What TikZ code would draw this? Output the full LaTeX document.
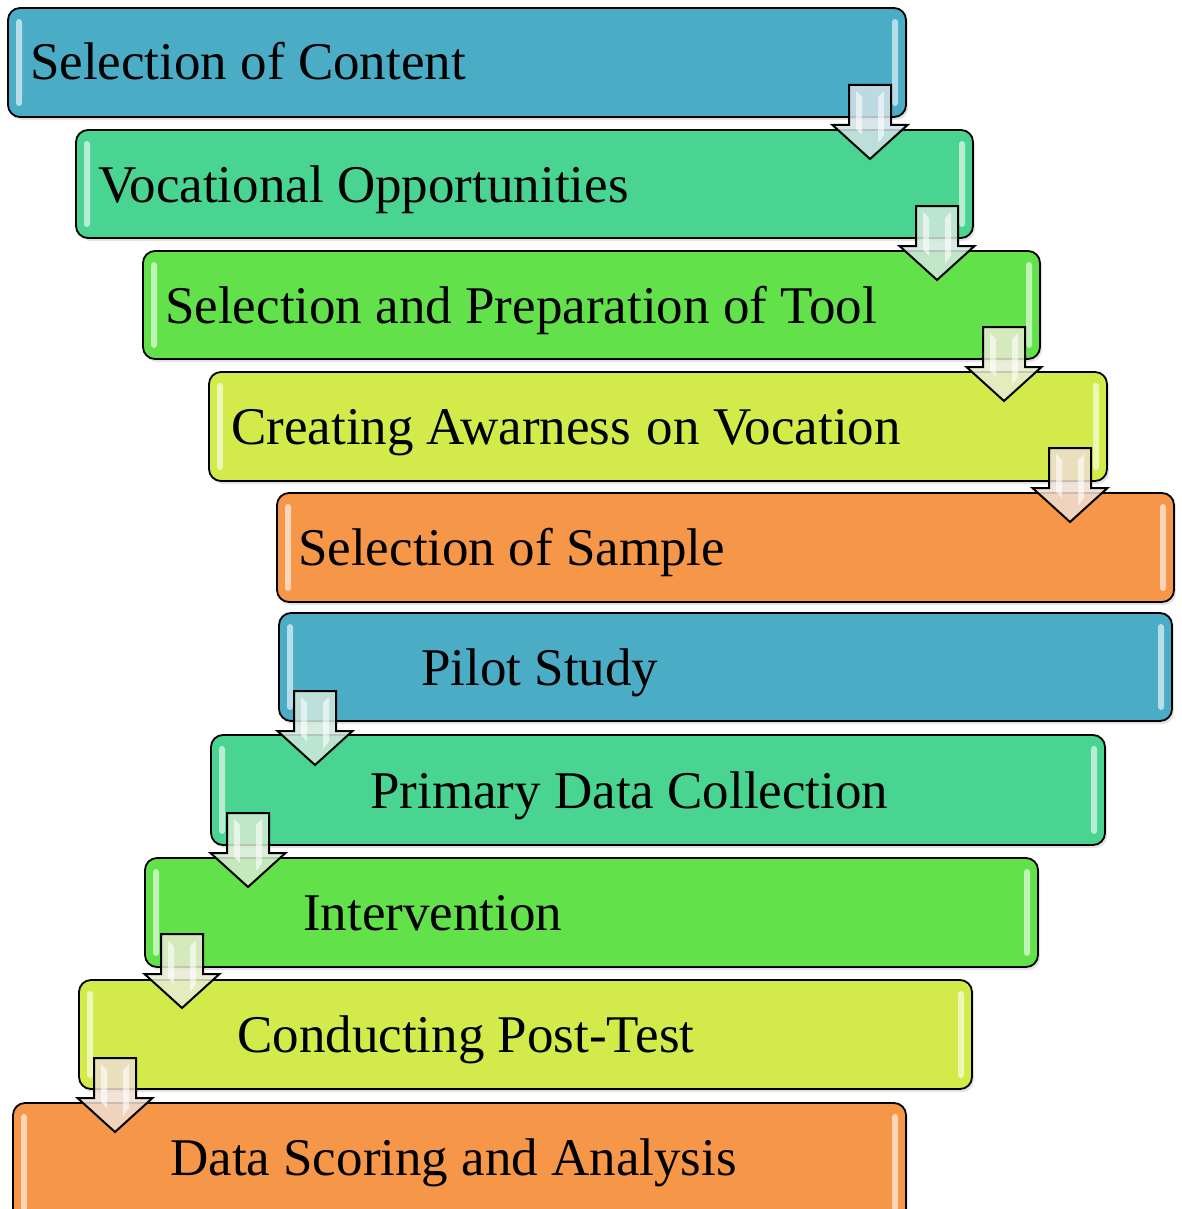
\documentclass[tikz,border=0pt]{standalone}
\usepackage{fontspec}
\setmainfont{Liberation Serif}
\usetikzlibrary{calc,shadows}

\definecolor{cBlue}{RGB}{75,172,198}
\definecolor{cTeal}{RGB}{74,212,145}
\definecolor{cGreen}{RGB}{99,225,74}
\definecolor{cYellow}{RGB}{211,235,74}
\definecolor{cOrange}{RGB}{246,150,72}

\tikzset{
  stepbox/.style={draw=black, line width=1.8pt, rounded corners=12pt,
    drop shadow={opacity=0.22, shadow xshift=2pt, shadow yshift=-3pt}},
  shine/.style={fill=white, fill opacity=0.6, rounded corners=3pt},
  steptext/.style={anchor=base west, inner sep=0pt, font=\fontsize{53}{60}\selectfont},
  flowarrow/.style={draw=black, line width=2pt, line join=miter, fill opacity=0.85},
}

% a rounded step box: name, left, top, right, bottom, colour
\newcommand\stepbox[6]{%
  \path[stepbox, fill=#6] (#2,#3) rectangle (#4,#5);
  \coordinate (#1-nw) at (#2,#3);
  \coordinate (#1-se) at (#4,#5);
  \coordinate (#1-sw) at (#2,#5);
  \coordinate (#1-ne) at (#4,#3);
  \fill[shine] ($(#1-nw)+(8,11)$) rectangle ($(#1-sw)+(14,-11)$);
  \fill[shine] ($(#1-ne)+(-14,11)$) rectangle ($(#1-se)+(-8,-11)$);
}

% a down-pointing block arrow whose shaft top centre is #1, tinted #2
\newcommand\flowdown[2]{%
  \draw[flowarrow, fill=#2!18!white!94!black]
    ($(#1)+(-21,0)$) -- ($(#1)+(21,0)$) -- ($(#1)+(21,40)$) -- ($(#1)+(37.5,40)$)
    -- ($(#1)+(0,74)$) -- ($(#1)+(-37.5,40)$) -- ($(#1)+(-21,40)$) -- cycle;
  \fill[white, opacity=0.6] ($(#1)+(-14,6)$) -- ($(#1)+(-8,12)$) -- ($(#1)+(-8,50)$) -- ($(#1)+(-14,44)$) -- cycle;
  \fill[white, opacity=0.6] ($(#1)+(14,6)$) -- ($(#1)+(8,12)$) -- ($(#1)+(8,58)$) -- ($(#1)+(14,50)$) -- cycle;
}

\begin{document}
\begin{tikzpicture}[x=1pt, y=-1pt]
\useasboundingbox (0,0) rectangle (1181,1209);

\stepbox{b1}{8}{8}{906}{117}{cBlue}
\stepbox{b2}{76}{130}{973}{238}{cTeal}
\stepbox{b3}{143}{251}{1040}{359}{cGreen}
\stepbox{b4}{209}{372}{1107}{481}{cYellow}
\stepbox{b5}{277}{493}{1174}{602}{cOrange}
\stepbox{b6}{279}{613}{1172}{721}{cBlue}
\stepbox{b7}{211}{735}{1105}{845}{cTeal}
\stepbox{b8}{145}{858}{1038}{967}{cGreen}
\stepbox{b9}{79}{980}{972}{1089}{cYellow}
\stepbox{b10}{13}{1103}{906}{1222}{cOrange}

\node[steptext] (t1) at (30,80) {Selection of Content};
\node[steptext] (t2) at (98,202) {Vocational Opportunities};
\node[steptext] (t3) at (165,323) {Selection and Preparation of Tool};
\node[steptext] (t4) at (231,444) {Creating Awarness\hspace{0.3em}on Vocation};
\node[steptext] (t5) at (298,565) {Selection of Sample};
\node[steptext] (t6) at (421,685) {Pilot Study};
\node[steptext] (t7) at (370,808) {Primary Data Collection};
\node[steptext] (t8) at (303,930) {Intervention};
\node[steptext] (t9) at (237,1052) {Conducting Post-Test};
\node[steptext] (t10) at (170,1175) {Data Scoring and Analysis};

\flowdown{$(b1-se)+(-36,-32)$}{cBlue}
\flowdown{$(b2-se)+(-36,-32)$}{cTeal}
\flowdown{$(b3-se)+(-36,-32)$}{cYellow}
\flowdown{$(b4-se)+(-37,-33)$}{cOrange}
\flowdown{$(b6-sw)+(36,-30)$}{cTeal}
\flowdown{$(b7-sw)+(37,-32)$}{cGreen}
\flowdown{$(b8-sw)+(37,-33)$}{cYellow}
\flowdown{$(b9-sw)+(36,-31)$}{cOrange}
\end{tikzpicture}
\end{document}
